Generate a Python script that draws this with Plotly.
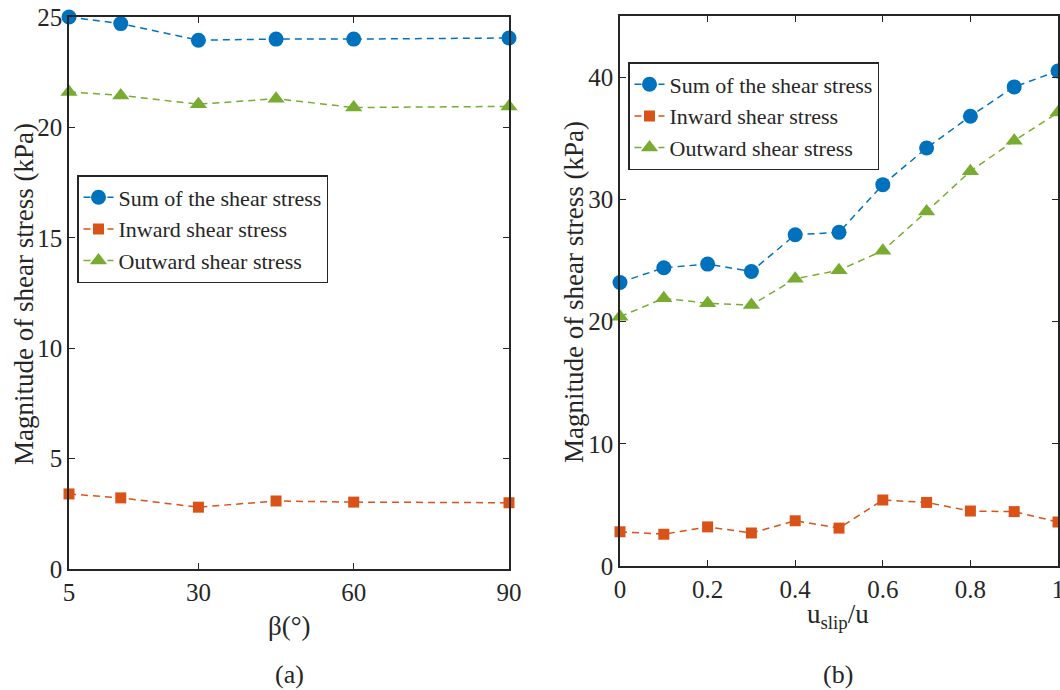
import plotly.graph_objects as go

# (a) data
beta = [5, 15, 30, 45, 60, 90]
sum_a = [25.0, 24.7, 23.95, 24.0, 24.0, 24.05]
inward_a = [3.4, 3.22, 2.8, 3.08, 3.03, 3.0]
outward_a = [21.6, 21.45, 21.05, 21.3, 20.9, 20.95]

# (b) data
slip = [0, 0.1, 0.2, 0.3, 0.4, 0.5, 0.6, 0.7, 0.8, 0.9, 1.0]
sum_b = [23.2, 24.4, 24.7, 24.1, 27.1, 27.3, 31.2, 34.2, 36.8, 39.2, 40.5]
inward_b = [2.8, 2.6, 3.2, 2.7, 3.7, 3.1, 5.4, 5.2, 4.5, 4.45, 3.6]
outward_b = [20.4, 21.9, 21.5, 21.35, 23.5, 24.2, 25.8, 29.0, 32.3, 34.8, 37.1]

names = ["Sum of the shear stress", "Inward shear stress", "Outward shear stress"]
colors = ["#0072BD", "#D95319", "#77AC30"]
symbols = ["circle", "square", "triangle-up"]
msizes = [15, 11, 15]

FONT = "Liberation Serif, Times New Roman, serif"
fig = go.Figure()

for i, ys in enumerate([sum_a, inward_a, outward_a]):
    fig.add_trace(go.Scatter(x=beta, y=ys, mode="lines+markers", name=names[i],
                             line=dict(color=colors[i], width=1.5, dash="7px,5px"),
                             marker=dict(symbol=symbols[i], size=msizes[i], color=colors[i]),
                             xaxis="x", yaxis="y", legend="legend", cliponaxis=False))
for i, ys in enumerate([sum_b, inward_b, outward_b]):
    fig.add_trace(go.Scatter(x=slip, y=ys, mode="lines+markers", name=names[i],
                             line=dict(color=colors[i], width=1.5, dash="7px,5px"),
                             marker=dict(symbol=symbols[i], size=msizes[i], color=colors[i]),
                             xaxis="x2", yaxis="y2", legend="legend2", cliponaxis=False))

axis_common = dict(showgrid=False, zeroline=False, showline=True, linecolor="#262626",
                   linewidth=1.5, mirror="ticks", ticks="inside", ticklen=6, tickwidth=1.2,
                   automargin=False, ticklabeloverflow="allow",
                   tickcolor="#262626", tickfont=dict(family=FONT, size=25, color="#262626"))

leg_common = dict(xanchor="left", yanchor="top", bgcolor="white", bordercolor="#262626",
                  borderwidth=1.5, font=dict(family=FONT, size=22, color="#262626"),
                  itemwidth=30, tracegroupgap=0)

fig.update_layout(
    width=1060, height=690, margin=dict(l=0, r=0, t=0, b=0, autoexpand=False),
    paper_bgcolor="white", plot_bgcolor="white",
    font=dict(family=FONT, color="#262626"),
    xaxis=dict(domain=[69/1060, 509/1060], range=[5, 90], tickvals=[5, 30, 60, 90],
               anchor="y", **axis_common),
    yaxis=dict(domain=[1-569/690, 1-17/690], range=[0, 25], tickvals=[0, 5, 10, 15, 20, 25],
               anchor="x", **axis_common),
    xaxis2=dict(domain=[620/1060, 1058/1060], range=[0, 1],
                tickvals=[0, 0.2, 0.4, 0.6, 0.8, 1], ticktext=["0", "0.2", "0.4", "0.6", "0.8", "1"],
                anchor="y2", **axis_common),
    yaxis2=dict(domain=[1-566/690, 1-16/690], range=[0, 45], tickvals=[0, 10, 20, 30, 40],
                anchor="x2", **axis_common),
    legend=dict(x=77/1060, y=1-175/690, **leg_common),
    legend2=dict(x=628/1060, y=1-62/690, **leg_common),
    showlegend=True,
)

ann_font = dict(family=FONT, size=27, color="#262626")
common_ann = dict(xref="paper", yref="paper", showarrow=False, xanchor="center", yanchor="middle")
fig.add_annotation(text="Magnitude of shear stress (kPa)", x=24/1060, y=1-294/690,
                   textangle=-90, font=ann_font, **common_ann)
fig.add_annotation(text="Magnitude of shear stress (kPa)", x=574/1060, y=1-292/690,
                   textangle=-90, font=ann_font, **common_ann)
fig.add_annotation(text="β(°)", x=289/1060, y=1-626/690, font=ann_font, **common_ann)
fig.add_annotation(text="u<sub>slip</sub>/u", x=838/1060, y=1-616/690, font=ann_font, **common_ann)
fig.add_annotation(text="(a)", x=289/1060, y=1-674/690,
                   font=dict(family=FONT, size=26, color="#262626"), **common_ann)
fig.add_annotation(text="(b)", x=838/1060, y=1-674/690,
                   font=dict(family=FONT, size=26, color="#262626"), **common_ann)

fig.write_html("out.html")
